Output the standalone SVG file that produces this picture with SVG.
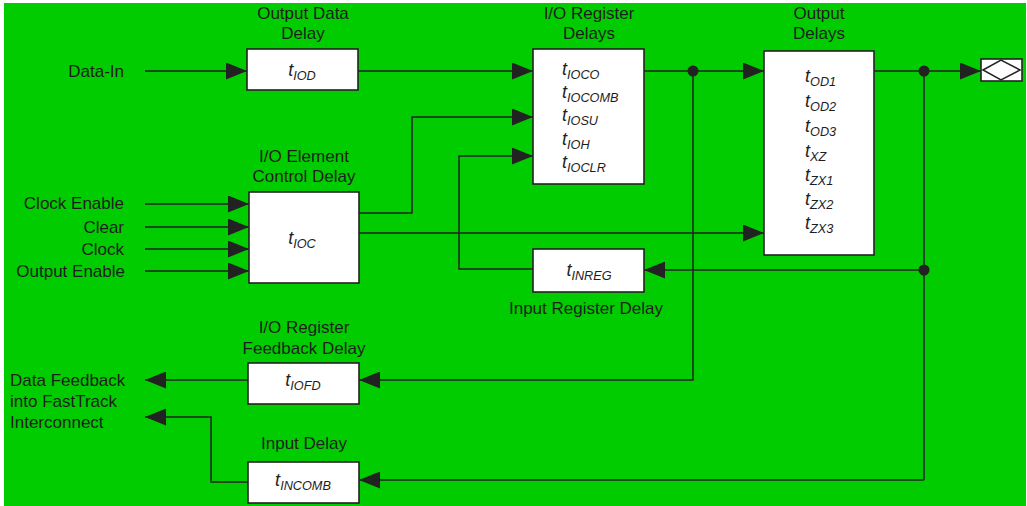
<svg xmlns="http://www.w3.org/2000/svg" width="1027" height="506" viewBox="0 0 1027 506">
<style>
text{font-family:"Liberation Sans",Arial,sans-serif;fill:#1e1e1e;font-size:17px}
.t{font-style:italic;font-size:18px}
.s{font-size:12.7px}
.box{fill:#fff;stroke:#222;stroke-width:1.6}
.ln{fill:none;stroke:#222;stroke-width:1.5}
.mid{text-anchor:middle}
.end{text-anchor:end}
</style>
<defs>
<marker id="ah" markerUnits="userSpaceOnUse" markerWidth="21" markerHeight="17" refX="21" refY="8.5" orient="auto">
<path d="M0,0 L21,8.5 L0,17 z" fill="#222"/>
</marker>
</defs>
<rect x="0" y="0" width="1027" height="506" fill="#fff"/>
<rect x="4" y="3" width="1022" height="503" fill="#00cc00"/>

<g id="connectors">
<path class="ln" d="M145,71 H247" marker-end="url(#ah)"/>
<path class="ln" d="M358,71 H533" marker-end="url(#ah)"/>
<path class="ln" d="M644,71 H764" marker-end="url(#ah)"/>
<path class="ln" d="M874,71 H981" marker-end="url(#ah)"/>
<path class="ln" d="M145,204 H249" marker-end="url(#ah)"/>
<path class="ln" d="M145,227 H249" marker-end="url(#ah)"/>
<path class="ln" d="M145,249 H249" marker-end="url(#ah)"/>
<path class="ln" d="M145,271 H249" marker-end="url(#ah)"/>
<path class="ln" d="M359,213 H412 V117 H533" marker-end="url(#ah)"/>
<path class="ln" d="M359,233 H764" marker-end="url(#ah)"/>
<path class="ln" d="M533,269 H459 V156 H533" marker-end="url(#ah)"/>
<path class="ln" d="M924,71 V480"/>
<path class="ln" d="M924,270 H644" marker-end="url(#ah)"/>
<path class="ln" d="M924,480 H359" marker-end="url(#ah)"/>
<path class="ln" d="M693,71 V380 H359" marker-end="url(#ah)"/>
<path class="ln" d="M248,380 H145" marker-end="url(#ah)"/>
<path class="ln" d="M248,482 H211 V417 H145" marker-end="url(#ah)"/>
<circle cx="693" cy="71" r="5.5" fill="#222"/>
<circle cx="924" cy="71" r="5.5" fill="#222"/>
<circle cx="924" cy="270" r="5.5" fill="#222"/>
</g>

<g id="labels">
<text class="end" x="124" y="77">Data-In</text>
<text class="end" x="124" y="209">Clock Enable</text>
<text class="end" x="124" y="233">Clear</text>
<text class="end" x="124" y="255">Clock</text>
<text class="end" x="125" y="277">Output Enable</text>
<text x="10" y="386">Data Feedback</text>
<text x="10" y="407">into FastTrack</text>
<text x="10" y="428">Interconnect</text>
</g>

<g id="node-iod">
<text class="mid" x="303" y="19">Output Data</text>
<text class="mid" x="303" y="39">Delay</text>
<rect class="box" x="247" y="49" width="111" height="41"/>
<text class="t mid" x="302" y="76">t<tspan class="s" dy="4">IOD</tspan></text>
</g>

<g id="node-ioreg">
<text class="mid" x="589" y="19">I/O Register</text>
<text class="mid" x="589" y="39">Delays</text>
<rect class="box" x="533" y="49" width="111" height="135"/>
<text class="t" x="562" y="75">t<tspan class="s" dy="4">IOCO</tspan></text>
<text class="t" x="562" y="98">t<tspan class="s" dy="4">IOCOMB</tspan></text>
<text class="t" x="562" y="121">t<tspan class="s" dy="4">IOSU</tspan></text>
<text class="t" x="562" y="145">t<tspan class="s" dy="4">IOH</tspan></text>
<text class="t" x="562" y="168">t<tspan class="s" dy="4">IOCLR</tspan></text>
</g>

<g id="node-outdelay">
<text class="mid" x="819" y="19">Output</text>
<text class="mid" x="819" y="39">Delays</text>
<rect class="box" x="764" y="51" width="110" height="204"/>
<text class="t" x="805" y="82">t<tspan class="s" dy="4">OD1</tspan></text>
<text class="t" x="805" y="107">t<tspan class="s" dy="4">OD2</tspan></text>
<text class="t" x="805" y="132">t<tspan class="s" dy="4">OD3</tspan></text>
<text class="t" x="805" y="157">t<tspan class="s" dy="4">XZ</tspan></text>
<text class="t" x="805" y="181">t<tspan class="s" dy="4">ZX1</tspan></text>
<text class="t" x="805" y="205">t<tspan class="s" dy="4">ZX2</tspan></text>
<text class="t" x="805" y="229">t<tspan class="s" dy="4">ZX3</tspan></text>
</g>

<g id="node-pad">
<rect class="box" x="981" y="59" width="41" height="22"/>
<path class="ln" d="M983,70 L1001,60 L1020,70 L1001,80 z"/>
</g>

<g id="node-ioc">
<text class="mid" x="304" y="162">I/O Element</text>
<text class="mid" x="304" y="182">Control Delay</text>
<rect class="box" x="249" y="192" width="110" height="91"/>
<text class="t mid" x="302" y="244">t<tspan class="s" dy="4">IOC</tspan></text>
</g>

<g id="node-inreg">
<rect class="box" x="533" y="249" width="111" height="43"/>
<text class="t mid" x="589" y="276">t<tspan class="s" dy="4">INREG</tspan></text>
<text class="mid" x="586" y="314">Input Register Delay</text>
</g>

<g id="node-iofd">
<text class="mid" x="304" y="333">I/O Register</text>
<text class="mid" x="304" y="354">Feedback Delay</text>
<rect class="box" x="248" y="363" width="111" height="41"/>
<text class="t mid" x="303" y="386">t<tspan class="s" dy="4">IOFD</tspan></text>
</g>

<g id="node-incomb">
<text class="mid" x="304" y="449">Input Delay</text>
<rect class="box" x="248" y="462" width="111" height="41"/>
<text class="t mid" x="303" y="486">t<tspan class="s" dy="4">INCOMB</tspan></text>
</g>
</svg>
